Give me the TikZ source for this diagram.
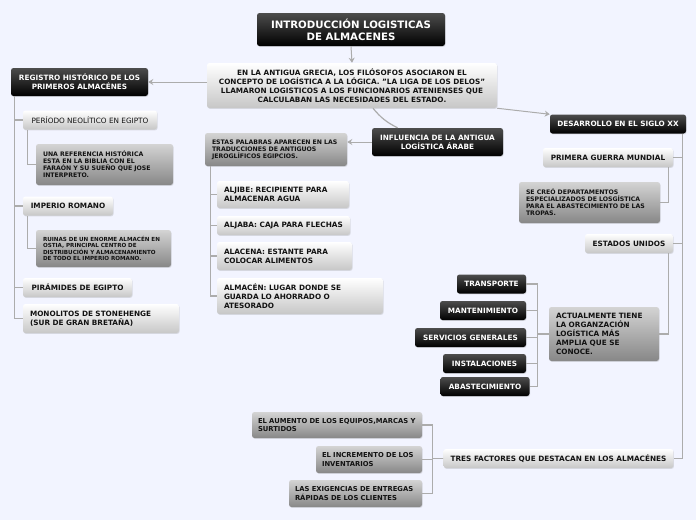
\documentclass[tikz,border=0pt]{standalone}
\usepackage{fontspec}
\setmainfont{DejaVu Sans}
\usetikzlibrary{arrows.meta,shadows}
\definecolor{paper}{RGB}{242,244,255}
\definecolor{wire}{RGB}{172,172,172}
\definecolor{ink}{RGB}{18,18,18}
\tikzset{
  every picture/.style={line width=0.5pt},
  box/.style={rounded corners=2.5pt, inner xsep=7pt, inner ysep=4pt, text=ink,
    minimum height=19pt, font=\fontsize{7.3}{9}\selectfont\bfseries,
    drop shadow={shadow xshift=0.6pt, shadow yshift=-0.9pt, opacity=0.22}},
  dark/.style={box, top color=black!70, bottom color=black, text=white},
  pale/.style={box, top color=white, bottom color=black!22},
  grey/.style={box, top color=black!17, bottom color=black!47},
  factor/.style={grey, align=left, inner xsep=6pt, font=\fontsize{6.8}{8.4}\selectfont\bfseries},
  small/.style={font=\fontsize{6.2}{7}\selectfont\bfseries},
  tiny/.style={font=\fontsize{5.6}{6.6}\selectfont\bfseries},
  link/.style={draw=wire, line width=1.2pt},
  flow/.style={draw=wire, line width=1pt, -{Stealth[length=5pt,width=6pt]}},
}
\begin{document}
\begin{tikzpicture}[x=1pt,y=1pt]
  \useasboundingbox (0,0) rectangle (696,-520);
  \fill[paper] (0,0) rectangle (696,-520);
  % centre and the three main branches
  \node[dark, align=center, font=\fontsize{10.2}{12}\selectfont\bfseries, minimum width=188pt, minimum height=33pt] (title) at (351,-29.5) {INTRODUCCIÓN LOGISTICAS\\DE ALMACENES};
  \node[pale, align=center, minimum width=290pt, minimum height=45pt] (grecia) at (352,-85.5) {EN LA ANTIGUA GRECIA, LOS FILÓSOFOS ASOCIARON EL\\CONCEPTO DE LOGÍSTICA A LA LÓGICA. "LA LIGA DE LOS DELOS"\\LLAMARON LOGISTICOS A LOS FUNCIONARIOS ATENIENSES QUE\\CALCULABAN LAS NECESIDADES DEL ESTADO.};
  \node[dark, align=center, minimum width=137pt, minimum height=28pt] (reg) at (79.5,-82) {REGISTRO HISTÓRICO DE LOS\\PRIMEROS ALMACÉNES};
  \node[dark, align=center, minimum width=131pt, minimum height=28pt] (influ) at (437.5,-142) {INFLUENCIA DE LA ANTIGUA\\LOGÍSTICA ÁRABE};
  \node[dark, minimum width=136pt] (des) at (618,-124) {DESARROLLO EN EL SIGLO XX};
  % registro historico
  \node[pale, font=\fontsize{7.3}{9}\selectfont, minimum width=134pt] (neo) at (90,-120) {PERÍODO NEOLÍTICO EN EGIPTO};
  \node[grey, small, align=left, text width=123pt, minimum height=41pt] (ref) at (104.5,-164.5) {UNA REFERENCIA HISTÓRICA\\ESTA EN LA BIBLIA CON EL\\FARAÓN Y SU SUEÑO QUE JOSE\\INTERPRETO.};
  \node[pale, minimum width=90pt] (imp) at (68,-206) {IMPERIO ROMANO};
  \node[grey, tiny, align=left, text width=121pt, minimum height=37pt] (ruinas) at (103.5,-248.5) {RUINAS DE UN ENORME ALMACÉN EN\\OSTIA, PRINCIPAL CENTRO DE\\DISTRIBUCIÓN Y ALMACENAMIENTO\\DE TODO EL IMPERIO ROMANO.};
  \node[pale, minimum width=109pt] (pir) at (77.5,-287.5) {PIRÁMIDES DE EGIPTO};
  \node[pale, align=left, text width=142pt, minimum height=29pt] (mon) at (101,-318.5) {MONOLITOS DE STONEHENGE\\(SUR DE GRAN BRETAÑA)};
  % influencia arabe
  \node[grey, small, align=left, text width=128pt, minimum height=33pt] (estas) at (276,-149.5) {ESTAS PALABRAS APARECEN EN LAS\\TRADUCCIONES DE ANTIGUOS\\JEROGLÍFICOS EGIPCIOS.};
  \node[pale, align=left, text width=118pt, minimum height=27pt] (aljibe) at (283,-194.5) {ALJIBE: RECIPIENTE PARA\\ALMACENAR AGUA};
  \node[pale, minimum width=133pt] (aljaba) at (283.5,-225.5) {ALJABA: CAJA PARA FLECHAS};
  \node[pale, align=left, text width=121pt, minimum height=28pt] (alacena) at (284.5,-256) {ALACENA: ESTANTE PARA\\COLOCAR ALIMENTOS};
  \node[pale, align=left, text width=152pt, minimum height=36pt] (almacen) at (300,-296) {ALMACÉN: LUGAR DONDE SE\\GUARDA LO AHORRADO O\\ATESORADO};
  % siglo xx
  \node[pale, minimum width=130pt] (pgm) at (608,-157.5) {PRIMERA GUERRA MUNDIAL};
  \node[grey, small, align=left, text width=127pt, minimum height=41pt] (secreo) at (589.5,-202.5) {SE CREÓ DEPARTAMENTOS\\ESPECIALIZADOS DE LOSGÍSTICA\\PARA EL ABASTECIMIENTO DE LAS\\TROPAS.};
  \node[pale, minimum width=88pt] (eeuu) at (629,-243.5) {ESTADOS UNIDOS};
  \node[grey, align=left, text width=96pt, minimum height=54pt] (act) at (604,-334) {ACTUALMENTE TIENE\\LA ORGANZACIÓN\\LOGÍSTICA MÁS\\AMPLIA QUE SE\\CONOCE.};
  \node[dark, minimum width=69pt] (trans) at (491.5,-284) {TRANSPORTE};
  \node[dark, minimum width=86pt] (mant) at (483,-310.5) {MANTENIMIENTO};
  \node[dark, minimum width=111pt] (serv) at (470.5,-337.5) {SERVICIOS GENERALES};
  \node[dark, minimum width=83pt] (inst) at (484.5,-363.5) {INSTALACIONES};
  \node[dark, minimum width=89pt] (abas) at (485,-386.5) {ABASTECIMIENTO};
  \node[pale, minimum width=227pt] (tres) at (558.5,-458.5) {TRES FACTORES QUE DESTACAN EN LOS ALMACÉNES};
  \node[factor, text width=158pt, minimum height=26pt] (aum) at (337,-425) {EL AUMENTO DE LOS EQUIPOS,MARCAS Y\\SURTIDOS};
  \node[factor, text width=94pt, minimum height=27pt] (inc) at (369,-459.5) {EL INCREMENTO DE LOS\\INVENTARIOS};
  \node[factor, text width=121pt, minimum height=27pt] (exi) at (355.5,-493.5) {LAS EXIGENCIAS DE ENTREGAS\\RÁPIDAS DE LOS CLIENTES};
  % connectors
  \draw[flow] (title.south) -- (grecia.north);
  \draw[flow] (grecia.west |- reg.east) -- (reg.east);
  \draw[flow] (grecia.south east) -- (des.north west);
  \draw[link] ([xshift=21pt]grecia.south) to[bend right=12] ([xshift=-40pt]influ.north);
  \draw[flow] (influ.west) -- (influ.west -| estas.east);
  \foreach \k in {neo,imp,pir,mon}
    \draw[link] ([xshift=4pt]reg.south west) |- (\k.west);
  \draw[link] ([xshift=5pt]neo.south west) |- (ref.west);
  \draw[link] ([xshift=5pt]imp.south west) |- (ruinas.west);
  \foreach \k in {aljibe,aljaba,alacena,almacen}
    \draw[link] ([xshift=6pt]estas.south west) |- (\k.west);
  \foreach \k in {pgm,eeuu,tres}
    \draw[link] ([xshift=-4pt]des.south east) |- (\k.east);
  \draw[link] ([xshift=-5pt]pgm.south east) |- (secreo.east);
  \draw[link] ([xshift=-5pt]eeuu.south east) |- (act.east);
  \foreach \k in {trans,mant,serv,inst,abas}
    \draw[link] (act.west) -- ++(-11,0) |- (\k.east);
  \foreach \k in {aum,inc,exi}
    \draw[link] (tres.west) -- ++(-11,0) |- (\k.east);
\end{tikzpicture}
\end{document}
